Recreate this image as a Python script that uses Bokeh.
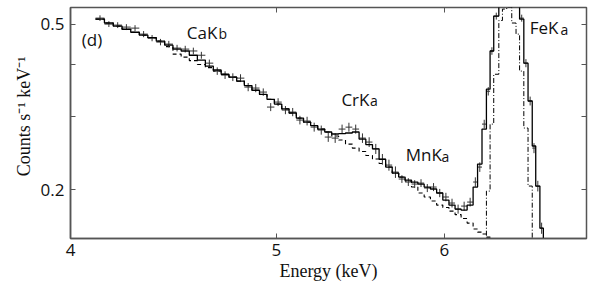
import math
from bokeh.plotting import figure
from bokeh.models import FixedTicker, LogAxis, Label, BasicTickFormatter, CustomLabelingPolicy
from bokeh.embed import file_html
from bokeh.resources import INLINE

# ---------------- data ----------------
# bin edges (keV)
energy_edges = [4.11, 4.15, 4.19, 4.23, 4.27, 4.31, 4.35, 4.39, 4.43, 4.47,
                4.51, 4.55, 4.59, 4.63, 4.67, 4.71, 4.75, 4.79, 4.83, 4.87,
                4.91, 4.95, 4.99, 5.03, 5.07, 5.11, 5.15, 5.19, 5.23, 5.27,
                5.31, 5.35, 5.39, 5.43, 5.47, 5.51, 5.55, 5.59, 5.63, 5.67,
                5.71, 5.75, 5.79, 5.83, 5.87, 5.91, 5.95, 5.99, 6.03, 6.07,
                6.11, 6.15, 6.19, 6.22, 6.25, 6.28, 6.305, 6.33, 6.365, 6.39,
                6.42, 6.455, 6.485, 6.51, 6.54, 6.57, 6.60, 6.625, 6.655, 6.68,
                6.71]

# total model (solid histogram), counts s-1 keV-1
model_total = [0.514, 0.503, 0.4945, 0.486, 0.478, 0.4705, 0.464, 0.455, 0.445, 0.4355,
               0.431, 0.421, 0.410, 0.3965, 0.388, 0.379, 0.373, 0.365, 0.356, 0.347,
               0.339, 0.330, 0.3215, 0.313, 0.306, 0.2975, 0.291, 0.2855, 0.280, 0.2755,
               0.2725, 0.273, 0.274, 0.2755, 0.265, 0.257, 0.251, 0.237, 0.227, 0.2196,
               0.2148, 0.2113, 0.209, 0.2067, 0.2033, 0.2011, 0.1967, 0.1892, 0.184, 0.180,
               0.179, 0.184,
               0.2033, 0.2308, 0.280, 0.349, 0.431, 0.5226, 0.60, 0.63, 0.64, 0.62,
               0.57, 0.514, 0.403, 0.327, 0.255, 0.2044, 0.162, 0.125]

# continuum model (dashed)
model_continuum = [0.514, 0.503, 0.4945, 0.486, 0.478, 0.4705, 0.464, 0.455, 0.4416, 0.4237,
                   0.4167, 0.4087, 0.400, 0.3932, 0.3857, 0.379, 0.373, 0.365, 0.356, 0.347,
                   0.339, 0.330, 0.3215, 0.313, 0.306, 0.2975, 0.291, 0.2855, 0.280, 0.2755,
                   0.2694, 0.2635, 0.2577, 0.2521, 0.2473, 0.2419, 0.2373, 0.2315, 0.227, 0.2196,
                   0.2148, 0.2101, 0.2033, 0.1967, 0.1924, 0.1882, 0.184, 0.1815, 0.178, 0.1746,
                   0.1708, 0.1666,
                   0.1612, 0.1585, 0.1568, 0.1542, 0.1521, 0.1492, 0.1477, 0.1463, 0.1442, 0.1427,
                   0.1407, 0.1393, 0.1372, 0.1357, 0.1344, 0.1323, 0.1309, 0.1295]

# Fe K line model (dash-dot), bins from 6.19 keV on
fe_line_model = [0.01, 0.01, 0.01, 0.1988, 0.2878, 0.379, 0.51, 0.5432, 0.5492, 0.503,
                 0.4731, 0.3857, 0.2816, 0.2044, 0.01, 0.01, 0.01, 0.01]

# observed spectrum (crosses) and 1-sigma errors
obs_counts = [0.5168, 0.500, 0.4972, 0.4918, 0.489, 0.4731, 0.4628, 0.4527, 0.4477, 0.4379,
              0.4355, 0.431, 0.421, 0.403, 0.3857, 0.3773, 0.373, 0.371, 0.3531, 0.3512,
              0.3435, 0.3162, 0.325, 0.311, 0.3076, 0.2943, 0.2927, 0.2831, 0.2785, 0.2679,
              0.2664, 0.280, 0.283, 0.280, 0.2664, 0.2606, 0.251, 0.237, 0.2295, 0.2208,
              0.2125, 0.209, 0.2067, 0.2078, 0.2022, 0.2033, 0.1967, 0.1924, 0.1861, 0.180,
              0.183, 0.1871,
              0.209, 0.227, 0.2878, 0.345, 0.431, 0.5226, 0.61, 0.64, 0.65, 0.61,
              0.57, 0.5168, 0.403, 0.327, 0.2521, 0.2044, 0.162, None]
obs_error = [0.008, 0.008, 0.008, 0.008, 0.008, 0.008, 0.008, 0.008, 0.008, 0.008,
             0.008, 0.008, 0.008, 0.008, 0.008, 0.008, 0.008, 0.008, 0.008, 0.008,
             0.007, 0.007, 0.007, 0.007, 0.007, 0.007, 0.007, 0.007, 0.007, 0.007,
             0.007, 0.007, 0.007, 0.007, 0.007, 0.007, 0.007, 0.007, 0.007, 0.007,
             0.0045, 0.0045, 0.0045, 0.0045, 0.0045, 0.0045, 0.0045, 0.0045, 0.0045, 0.0045,
             0.0045, 0.0045,
             0.0055, 0.006, 0.007, 0.008, 0.009, 0.010, 0.011, 0.011, 0.011, 0.011,
             0.011, 0.010, 0.009, 0.008, 0.007, 0.006, 0.005, 0.0]

x_ticks = [4, 5, 6]
y_ticks = [0.2, 0.5]
y_minor = [0.3, 0.4]

labels = [("(d)", 4.049, 0.459, "17px"),
          ("CaK", 4.538, 0.478, "17px"), ("b", 4.696, 0.4755, "14px"),
          ("CrK", 5.366, 0.330, "17px"), ("a", 5.535, 0.327, "14px"),
          ("MnK", 5.754, 0.2432, "17px"), ("a", 5.981, 0.241, "14px"),
          ("FeK", 6.582, 0.4918, "17px"), ("a", 6.805, 0.486, "14px")]

# ---------------- figure ----------------
AX = "#555555"
SANS = "Open Sans"
SERIF = "Liberation Serif"

p = figure(width=590, height=292, x_axis_type="log", y_axis_type="log",
           x_range=(4.0, 7.0), y_range=(0.153, 0.548),
           min_border_left=70, min_border_right=0, min_border_top=7,
           min_border_bottom=54, output_backend="svg", toolbar_location=None)
p.xgrid.visible = False
p.ygrid.visible = False
p.outline_line_color = AX
p.outline_line_width = 1.5
p.background_fill_color = "white"
p.border_fill_color = "white"


def step_xy(edges, vals):
    xs, ys = [], []
    for i, v in enumerate(vals):
        xs += [edges[i], edges[i + 1]]
        ys += [v, v]
    return xs, ys


# continuum (dashed)
cx, cy = step_xy(energy_edges, model_continuum)
p.line(cx, cy, line_color="black", line_width=1.1, line_dash="4 3")

# Fe line (dash-dot)
fe_edges = energy_edges[len(energy_edges) - len(fe_line_model) - 1:]
fx, fy = step_xy(fe_edges, fe_line_model)
p.line(fx, fy, line_color="black", line_width=1.0, line_dash="5 2 1 2")

# crosses
hx0, hx1, hy, vx, vy0, vy1 = [], [], [], [], [], []
for i, (c, e) in enumerate(zip(obs_counts, obs_error)):
    if c is None:
        continue
    lo, hi = energy_edges[i], energy_edges[i + 1]
    hx0.append(lo); hx1.append(hi); hy.append(c)
    vx.append(0.5 * (lo + hi)); vy0.append(c - e); vy1.append(c + e)
p.segment(x0=hx0, y0=hy, x1=hx1, y1=hy, line_color="#333333", line_width=1.0)
p.segment(x0=vx, y0=vy0, x1=vx, y1=vy1, line_color="#333333", line_width=1.0)

# total model (solid)
sx, sy = step_xy(energy_edges, model_total)
p.line(sx, sy, line_color="black", line_width=1.3)

# ---------------- axes ----------------
def style_axis(ax, labels_on):
    ax.axis_line_color = AX
    ax.axis_line_width = 1.5
    ax.major_tick_line_color = AX
    ax.minor_tick_line_color = AX
    ax.major_tick_in = 5
    ax.major_tick_out = 0
    ax.minor_tick_in = 5
    ax.minor_tick_out = 0
    ax.formatter = BasicTickFormatter()
    if labels_on:
        ax.major_label_text_font = SANS
        ax.major_label_text_font_size = "17px"
        ax.major_label_text_color = "#111111"
    else:
        ax.major_label_text_font_size = "1px"
        ax.major_label_standoff = 0
        ax.major_label_policy = CustomLabelingPolicy(
            code="for (const i of indices) { indices.unset(i) }\nreturn indices")


xa = p.xaxis[0]
xa.ticker = FixedTicker(ticks=x_ticks, minor_ticks=[])
style_axis(xa, True)
xa.major_label_standoff = 5
xa.axis_label = "Energy (keV)"
xa.axis_label_text_font = SERIF
xa.axis_label_text_font_size = "18px"
xa.axis_label_text_font_style = "normal"
xa.axis_label_text_color = "#111111"
xa.axis_label_standoff = 2

ya = p.yaxis[0]
ya.ticker = FixedTicker(ticks=y_ticks, minor_ticks=y_minor)
style_axis(ya, True)
ya.major_label_standoff = 6
ya.axis_label = "\u00a0\u00a0\u00a0Counts s\u207b\u00b9 keV\u207b\u00b9"
ya.axis_label_text_font = SERIF
ya.axis_label_text_font_size = "18px"
ya.axis_label_text_font_style = "normal"
ya.axis_label_text_color = "#111111"
ya.axis_label_standoff = 4

top = LogAxis(ticker=FixedTicker(ticks=x_ticks, minor_ticks=[]))
style_axis(top, False)
top.axis_line_color = None
p.add_layout(top, "above")

right = LogAxis(ticker=FixedTicker(ticks=y_ticks, minor_ticks=y_minor))
style_axis(right, False)
right.axis_line_color = None
p.add_layout(right, "right")

for txt, ex, cy_, size in labels:
    p.add_layout(Label(x=ex, y=cy_, text=txt, text_font=SANS, text_font_size=size,
                       text_color="#111111", text_baseline="middle", text_align="left"))

open("out.html", "w").write(file_html(p, INLINE))
